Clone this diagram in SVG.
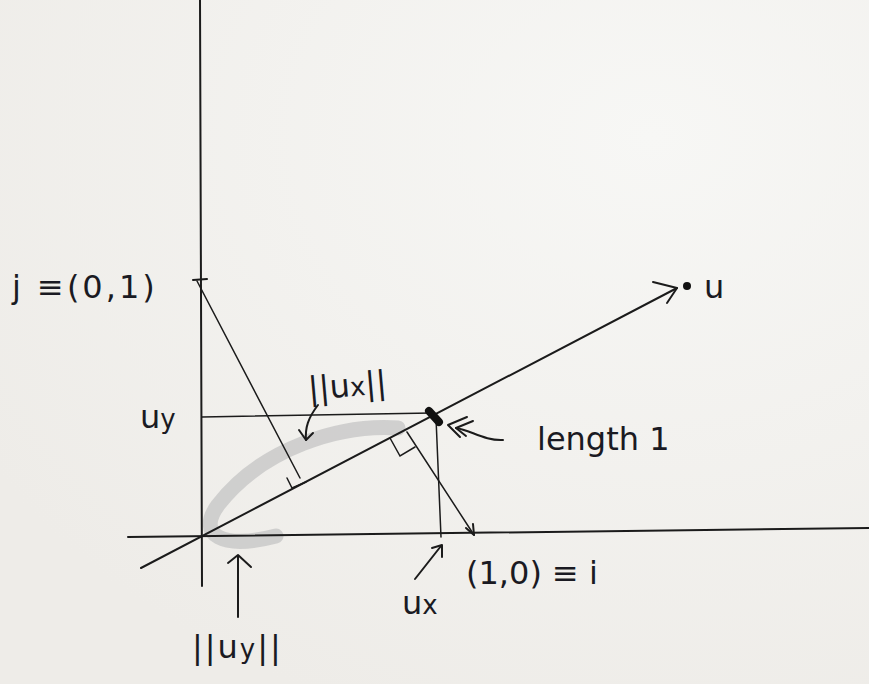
<svg xmlns="http://www.w3.org/2000/svg" width="869" height="684" viewBox="0 0 869 684">
<defs>
<radialGradient id="paper" cx="0.75" cy="0.2" r="0.9">
<stop offset="0" stop-color="#f7f7f5"/>
<stop offset="1" stop-color="#eeece8"/>
</radialGradient>
</defs>
<style>
.ln{stroke:#1b1b1b;stroke-width:2;fill:none;stroke-linecap:round;stroke-linejoin:round}
.thin{stroke:#1b1b1b;stroke-width:1.5;fill:none;stroke-linecap:round}
.lbl{font-family:"DejaVu Sans","Liberation Sans",sans-serif;font-size:32px;fill:#1a1a22}
.sub{font-size:26px}
</style>
<rect x="0" y="0" width="869" height="684" fill="url(#paper)"/>
<g id="shading">
<path d="M 398 428 C 340 424 262 448 218 505 C 196 535 222 550 276 536" stroke="#c4c4c4" stroke-width="15" fill="none" stroke-linecap="round" opacity="0.75"/>
</g>
<g id="axes">
<line class="ln" x1="200" y1="0" x2="202" y2="586"/>
<line class="ln" x1="128" y1="537" x2="869" y2="528"/>
</g>
<g id="connectors">
<line class="ln" x1="141" y1="568" x2="677" y2="288"/>
<polyline class="ln" points="653,282 677,288 667,303"/>
<line class="thin" x1="202" y1="417" x2="432" y2="413"/>
<line class="thin" x1="436" y1="418" x2="441" y2="537"/>
<line class="thin" x1="197" y1="281" x2="300" y2="478"/>
<line class="thin" x1="407" y1="432" x2="474" y2="535"/>
<polyline class="ln" points="466,528 474,535 473,524"/>
<polyline class="thin" points="287,478 292,488 306,482"/>
<polyline class="thin" points="390,438 400,456 415,447"/>
<line class="ln" x1="193" y1="280" x2="207" y2="279"/>
<line x1="429" y1="411" x2="439" y2="422" stroke="#111" stroke-width="8" stroke-linecap="round"/>
<path class="ln" d="M 318 405 C 308 418 305 428 306 440"/>
<polyline class="ln" points="299,430 306,440 313,433"/>
<line class="ln" x1="238" y1="617" x2="238" y2="556"/>
<polyline class="ln" points="228,563 238,555 251,567"/>
<line class="ln" x1="415" y1="579" x2="441" y2="546"/>
<polyline class="ln" points="432,548 442,545 442,557"/>
<polyline class="ln" points="467,417 448,425 460,437"/>
<polyline class="ln" points="473,421 456,428 466,436"/>
<path class="ln" d="M 456 428 C 470 430 485 441 503 440"/>
</g>
<g id="node-u">
<circle cx="687" cy="286" r="4" fill="#111"/>
<text class="lbl" x="704" y="298" font-size="36">u</text>
</g>
<g id="node-j">
<text class="lbl" x="12" y="298" letter-spacing="3">j ≡(0,1)</text>
</g>
<g id="node-uy">
<text class="lbl" x="140" y="428" font-size="34">u<tspan class="sub" font-size="30">y</tspan></text>
</g>
<g id="node-ux-norm">
<text class="lbl" x="309" y="400" font-size="28" transform="rotate(-5 309 400)">||u<tspan class="sub" font-size="22">x</tspan>||</text>
</g>
<g id="node-length">
<text class="lbl" x="537" y="450" font-size="33">length 1</text>
</g>
<g id="node-i">
<text class="lbl" x="466" y="584" font-size="29">(1,0) ≡ i</text>
</g>
<g id="node-ux">
<text class="lbl" x="402" y="614" font-size="32">u<tspan class="sub">x</tspan></text>
</g>
<g id="node-uy-norm">
<text class="lbl" x="192" y="658" font-size="34" letter-spacing="2">||u<tspan class="sub" font-size="30">y</tspan>||</text>
</g>
</svg>
